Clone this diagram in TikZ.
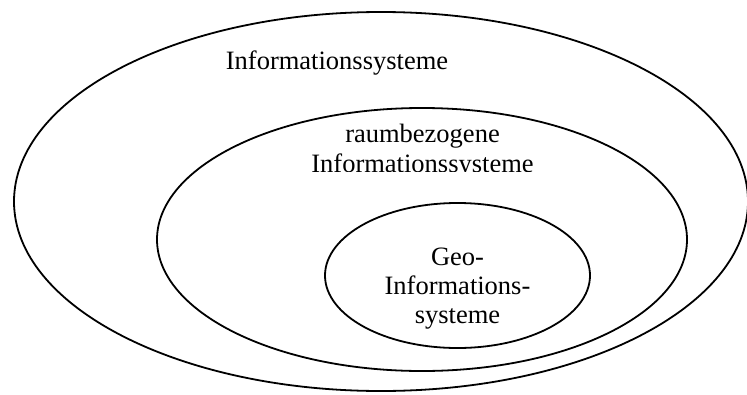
\documentclass[tikz,border=0pt]{standalone}
\usepackage{fontspec}
\setmainfont{Liberation Serif}
\usetikzlibrary{shapes.geometric}
\begin{document}
\begin{tikzpicture}[x=1pt, y=-1pt,
  ring/.style={draw, ellipse, line width=1.8pt, inner sep=0pt},
  caption/.style={font=\fontsize{26.5}{29}\selectfont, align=center, inner sep=0pt, anchor=base}]
\useasboundingbox (0,0) rectangle (747,394);

% nested sets
\node[ring, minimum width=734pt, minimum height=379pt] (outer) at (381,201.5) {};
\node[ring, minimum width=530pt, minimum height=263pt] (middle) at (422,239.5) {};
\node[ring, minimum width=265pt, minimum height=145pt] (inner) at (457.5,275.5) {};

% labels (a multi-line node sits on the baseline of its last line)
\node[caption] (outerlabel) at (337,69.5) {Informationssysteme};
\begin{scope}
  \clip (150,100) rectangle (700,171);
  \node[caption, font=\fontsize{26.5}{30}\selectfont] (middlelabel) at (422.5,172.3) {raumbezogene\\Informationssysteme};
\end{scope}
\node[caption] (innerlabel) at (457.5,323) {Geo-\\Informations-\\systeme};
\end{tikzpicture}
\end{document}
